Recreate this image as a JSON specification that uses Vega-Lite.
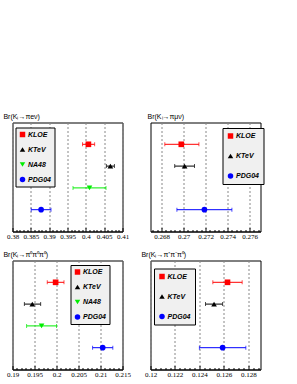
{
  "$schema": "https://vega.github.io/schema/vega-lite/v6.json",
  "padding": {"left": 2.5, "top": 111.5, "right": 5, "bottom": 5},
  "background": "white",
  "bounds": "flush",
  "columns": 2,
  "spacing": {"row": 29, "column": 28},
  "data": {
    "values": [
      {"panel": "e3", "expt": "KLOE", "val": 0.4007, "lo": 0.3991, "hi": 0.4024, "row": 4},
      {"panel": "e3", "expt": "KTeV", "val": 0.4067, "lo": 0.4056, "hi": 0.4078, "row": 3},
      {"panel": "e3", "expt": "NA48", "val": 0.4010, "lo": 0.3965, "hi": 0.4055, "row": 2},
      {"panel": "e3", "expt": "PDG04", "val": 0.3878, "lo": 0.3851, "hi": 0.3905, "row": 1},
      {"panel": "mu3", "expt": "KLOE", "val": 0.2698, "lo": 0.2683, "hi": 0.2714, "row": 4},
      {"panel": "mu3", "expt": "KTeV", "val": 0.2701, "lo": 0.2692, "hi": 0.2710, "row": 3},
      {"panel": "mu3", "expt": "PDG04", "val": 0.2719, "lo": 0.2694, "hi": 0.2744, "row": 1},
      {"panel": "p00", "expt": "KLOE", "val": 0.1998, "lo": 0.1979, "hi": 0.2017, "row": 4},
      {"panel": "p00", "expt": "KTeV", "val": 0.1945, "lo": 0.1927, "hi": 0.1964, "row": 3},
      {"panel": "p00", "expt": "NA48", "val": 0.1966, "lo": 0.1932, "hi": 0.2000, "row": 2},
      {"panel": "p00", "expt": "PDG04", "val": 0.2105, "lo": 0.2082, "hi": 0.2128, "row": 1},
      {"panel": "pm0", "expt": "KLOE", "val": 0.1263, "lo": 0.1251, "hi": 0.1275, "row": 4},
      {"panel": "pm0", "expt": "KTeV", "val": 0.1252, "lo": 0.1245, "hi": 0.1259, "row": 3},
      {"panel": "pm0", "expt": "PDG04", "val": 0.1259, "lo": 0.1240, "hi": 0.1278, "row": 1}
    ]
  },
  "resolve": {
    "scale": {"x": "independent", "y": "independent", "color": "independent", "shape": "independent"},
    "legend": {"color": "independent", "shape": "independent"}
  },
  "concat": [
    {
      "width": 110, "height": 109,
      "title": {"text": "Br(Kₗ→πeν)"},
      "transform": [{"filter": "datum.panel==='e3'"}],
      "encoding": {
        "y": {"field": "row", "type": "quantitative", "scale": {"domain": [0, 5]}, "axis": null},
        "x": {"field": "val", "type": "quantitative", "scale": {"domain": [0.38, 0.41], "nice": false, "zero": false}, "axis": {
             "values": [0.38,0.381,0.382,0.383,0.384,0.385,0.386,0.387,0.388,0.389,0.39,0.391,0.392,0.393,0.394,0.395,0.396,0.397,0.398,0.399,0.4,0.401,0.402,0.403,0.404,0.405,0.406,0.407,0.408,0.409,0.41],
             "labelExpr": "abs(datum.value*200-round(datum.value*200))<0.01 ? format(datum.value,'~g') : ''",
             "tickSize": {"condition": {"test": "abs(datum.value*200-round(datum.value*200))<0.01", "value": -4}, "value": -2},
             "gridOpacity": {"condition": {"test": "abs(datum.value*200-round(datum.value*200))<0.01", "value": 1}, "value": 0}}},
        "color": {"condition": [{"test": "datum.expt==='KLOE'", "value": "#ff0000"}, {"test": "datum.expt==='NA48'", "value": "#00ee00"}, {"test": "datum.expt==='PDG04'", "value": "#0000ff"}], "value": "#000000"}
      },
      "layer": [
        {"mark": {"type": "rule", "strokeWidth": 1},
         "encoding": {"x": {"field": "lo", "type": "quantitative"}, "x2": {"field": "hi"}}},
        {"mark": {"type": "tick", "orient": "vertical", "size": 4, "thickness": 1},
         "encoding": {"x": {"field": "lo", "type": "quantitative"}}},
        {"mark": {"type": "tick", "orient": "vertical", "size": 4, "thickness": 1},
         "encoding": {"x": {"field": "hi", "type": "quantitative"}}},
        {"mark": {"type": "point", "filled": true, "opacity": 1, "size": 32},
         "encoding": {
           "color": {"field": "expt", "type": "nominal", "scale": {"domain": ["KLOE", "KTeV", "NA48", "PDG04"], "range": ["#ff0000", "#000000", "#00ee00", "#0000ff"]}, "legend": {"orient": "none", "legendX": 3, "legendY": 5, "padding": 3.5, "rowPadding": 7}},
           "shape": {"field": "expt", "type": "nominal", "scale": {"domain": ["KLOE", "KTeV", "NA48", "PDG04"], "range": ["square", "triangle-up", "triangle-down", "circle"]}, "legend": {"orient": "none", "legendX": 3, "legendY": 5, "padding": 3.5, "rowPadding": 7}}}}
      ]
    },
    {
      "width": 110, "height": 109,
      "title": {"text": "Br(Kₗ→πμν)"},
      "transform": [{"filter": "datum.panel==='mu3'"}],
      "encoding": {
        "y": {"field": "row", "type": "quantitative", "scale": {"domain": [0, 5]}, "axis": null},
        "x": {"field": "val", "type": "quantitative", "scale": {"domain": [0.267, 0.277], "nice": false, "zero": false}, "axis": {
             "values": [0.2672,0.2676,0.268,0.2684,0.2688,0.2692,0.2696,0.27,0.2704,0.2708,0.2712,0.2716,0.272,0.2724,0.2728,0.2732,0.2736,0.274,0.2744,0.2748,0.2752,0.2756,0.276,0.2764,0.2768],
             "labelExpr": "abs(datum.value*500-round(datum.value*500))<0.01 ? format(datum.value,'~g') : ''",
             "tickSize": {"condition": {"test": "abs(datum.value*500-round(datum.value*500))<0.01", "value": -4}, "value": -2},
             "gridOpacity": {"condition": {"test": "abs(datum.value*500-round(datum.value*500))<0.01", "value": 1}, "value": 0}}},
        "color": {"condition": [{"test": "datum.expt==='KLOE'", "value": "#ff0000"}, {"test": "datum.expt==='NA48'", "value": "#00ee00"}, {"test": "datum.expt==='PDG04'", "value": "#0000ff"}], "value": "#000000"}
      },
      "layer": [
        {"mark": {"type": "rule", "strokeWidth": 1},
         "encoding": {"x": {"field": "lo", "type": "quantitative"}, "x2": {"field": "hi"}}},
        {"mark": {"type": "tick", "orient": "vertical", "size": 4, "thickness": 1},
         "encoding": {"x": {"field": "lo", "type": "quantitative"}}},
        {"mark": {"type": "tick", "orient": "vertical", "size": 4, "thickness": 1},
         "encoding": {"x": {"field": "hi", "type": "quantitative"}}},
        {"mark": {"type": "point", "filled": true, "opacity": 1, "size": 32},
         "encoding": {
           "color": {"field": "expt", "type": "nominal", "scale": {"domain": ["KLOE", "KTeV", "PDG04"], "range": ["#ff0000", "#000000", "#0000ff"]}, "legend": {"orient": "none", "legendX": 72, "legendY": 5.5, "padding": 4.5, "rowPadding": 12}},
           "shape": {"field": "expt", "type": "nominal", "scale": {"domain": ["KLOE", "KTeV", "PDG04"], "range": ["square", "triangle-up", "circle"]}, "legend": {"orient": "none", "legendX": 72, "legendY": 5.5, "padding": 4.5, "rowPadding": 12}}}}
      ]
    },
    {
      "width": 110, "height": 109,
      "title": {"text": "Br(Kₗ→π⁰π⁰π⁰)"},
      "transform": [{"filter": "datum.panel==='p00'"}],
      "encoding": {
        "y": {"field": "row", "type": "quantitative", "scale": {"domain": [0, 5]}, "axis": null},
        "x": {"field": "val", "type": "quantitative", "scale": {"domain": [0.19, 0.215], "nice": false, "zero": false}, "axis": {
             "values": [0.19,0.191,0.192,0.193,0.194,0.195,0.196,0.197,0.198,0.199,0.2,0.201,0.202,0.203,0.204,0.205,0.206,0.207,0.208,0.209,0.21,0.211,0.212,0.213,0.214,0.215],
             "labelExpr": "abs(datum.value*200-round(datum.value*200))<0.01 ? format(datum.value,'~g') : ''",
             "tickSize": {"condition": {"test": "abs(datum.value*200-round(datum.value*200))<0.01", "value": -4}, "value": -2},
             "gridOpacity": {"condition": {"test": "abs(datum.value*200-round(datum.value*200))<0.01", "value": 1}, "value": 0}}},
        "color": {"condition": [{"test": "datum.expt==='KLOE'", "value": "#ff0000"}, {"test": "datum.expt==='NA48'", "value": "#00ee00"}, {"test": "datum.expt==='PDG04'", "value": "#0000ff"}], "value": "#000000"}
      },
      "layer": [
        {"mark": {"type": "rule", "strokeWidth": 1},
         "encoding": {"x": {"field": "lo", "type": "quantitative"}, "x2": {"field": "hi"}}},
        {"mark": {"type": "tick", "orient": "vertical", "size": 4, "thickness": 1},
         "encoding": {"x": {"field": "lo", "type": "quantitative"}}},
        {"mark": {"type": "tick", "orient": "vertical", "size": 4, "thickness": 1},
         "encoding": {"x": {"field": "hi", "type": "quantitative"}}},
        {"mark": {"type": "point", "filled": true, "opacity": 1, "size": 32},
         "encoding": {
           "color": {"field": "expt", "type": "nominal", "scale": {"domain": ["KLOE", "KTeV", "NA48", "PDG04"], "range": ["#ff0000", "#000000", "#00ee00", "#0000ff"]}, "legend": {"orient": "none", "legendX": 58, "legendY": 4.5, "padding": 3.5, "rowPadding": 7}},
           "shape": {"field": "expt", "type": "nominal", "scale": {"domain": ["KLOE", "KTeV", "NA48", "PDG04"], "range": ["square", "triangle-up", "triangle-down", "circle"]}, "legend": {"orient": "none", "legendX": 58, "legendY": 4.5, "padding": 3.5, "rowPadding": 7}}}}
      ]
    },
    {
      "width": 110, "height": 109,
      "title": {"text": "Br(Kₗ→π⁺π⁻π⁰)"},
      "transform": [{"filter": "datum.panel==='pm0'"}],
      "encoding": {
        "y": {"field": "row", "type": "quantitative", "scale": {"domain": [0, 5]}, "axis": null},
        "x": {"field": "val", "type": "quantitative", "scale": {"domain": [0.12, 0.129], "nice": false, "zero": false}, "axis": {
             "values": [0.12,0.1204,0.1208,0.1212,0.1216,0.122,0.1224,0.1228,0.1232,0.1236,0.124,0.1244,0.1248,0.1252,0.1256,0.126,0.1264,0.1268,0.1272,0.1276,0.128,0.1284,0.1288],
             "labelExpr": "abs(datum.value*500-round(datum.value*500))<0.01 ? format(datum.value,'~g') : ''",
             "tickSize": {"condition": {"test": "abs(datum.value*500-round(datum.value*500))<0.01", "value": -4}, "value": -2},
             "gridOpacity": {"condition": {"test": "abs(datum.value*500-round(datum.value*500))<0.01", "value": 1}, "value": 0}}},
        "color": {"condition": [{"test": "datum.expt==='KLOE'", "value": "#ff0000"}, {"test": "datum.expt==='NA48'", "value": "#00ee00"}, {"test": "datum.expt==='PDG04'", "value": "#0000ff"}], "value": "#000000"}
      },
      "layer": [
        {"mark": {"type": "rule", "strokeWidth": 1},
         "encoding": {"x": {"field": "lo", "type": "quantitative"}, "x2": {"field": "hi"}}},
        {"mark": {"type": "tick", "orient": "vertical", "size": 4, "thickness": 1},
         "encoding": {"x": {"field": "lo", "type": "quantitative"}}},
        {"mark": {"type": "tick", "orient": "vertical", "size": 4, "thickness": 1},
         "encoding": {"x": {"field": "hi", "type": "quantitative"}}},
        {"mark": {"type": "point", "filled": true, "opacity": 1, "size": 32},
         "encoding": {
           "color": {"field": "expt", "type": "nominal", "scale": {"domain": ["KLOE", "KTeV", "PDG04"], "range": ["#ff0000", "#000000", "#0000ff"]}, "legend": {"orient": "none", "legendX": 3.5, "legendY": 8, "padding": 4.5, "rowPadding": 12}},
           "shape": {"field": "expt", "type": "nominal", "scale": {"domain": ["KLOE", "KTeV", "PDG04"], "range": ["square", "triangle-up", "circle"]}, "legend": {"orient": "none", "legendX": 3.5, "legendY": 8, "padding": 4.5, "rowPadding": 12}}}}
      ]
    }
  ],
  "config": {
    "font": "Liberation Sans",
    "view": {"stroke": "black", "strokeWidth": 1},
    "axis": {
      "title": null,
      "labelFont": "Liberation Serif",
      "labelFontSize": 7,
      "labelColor": "black",
      "labelPadding": 5,
      "labelFlush": false,
      "labelOverlap": false,
      "domainColor": "black",
      "tickColor": "black",
      "grid": true,
      "gridColor": "#888888",
      "gridDash": [2, 2]
    },
    "title": {"anchor": "start", "fontSize": 7, "font": "Liberation Sans", "fontWeight": "normal", "offset": 3, "dx": -3, "color": "black"},
    "legend": {
      "title": null,
      "fillColor": "#f0f0f0",
      "strokeColor": "black",
      "labelFont": "Liberation Sans",
      "labelFontSize": 7,
      "labelFontStyle": "italic",
      "labelFontWeight": "bold",
      "labelColor": "black",
      "labelOffset": 2,
      "symbolSize": 30,
      "symbolStrokeWidth": 0,
      "symbolOpacity": 1
    }
  }
}
